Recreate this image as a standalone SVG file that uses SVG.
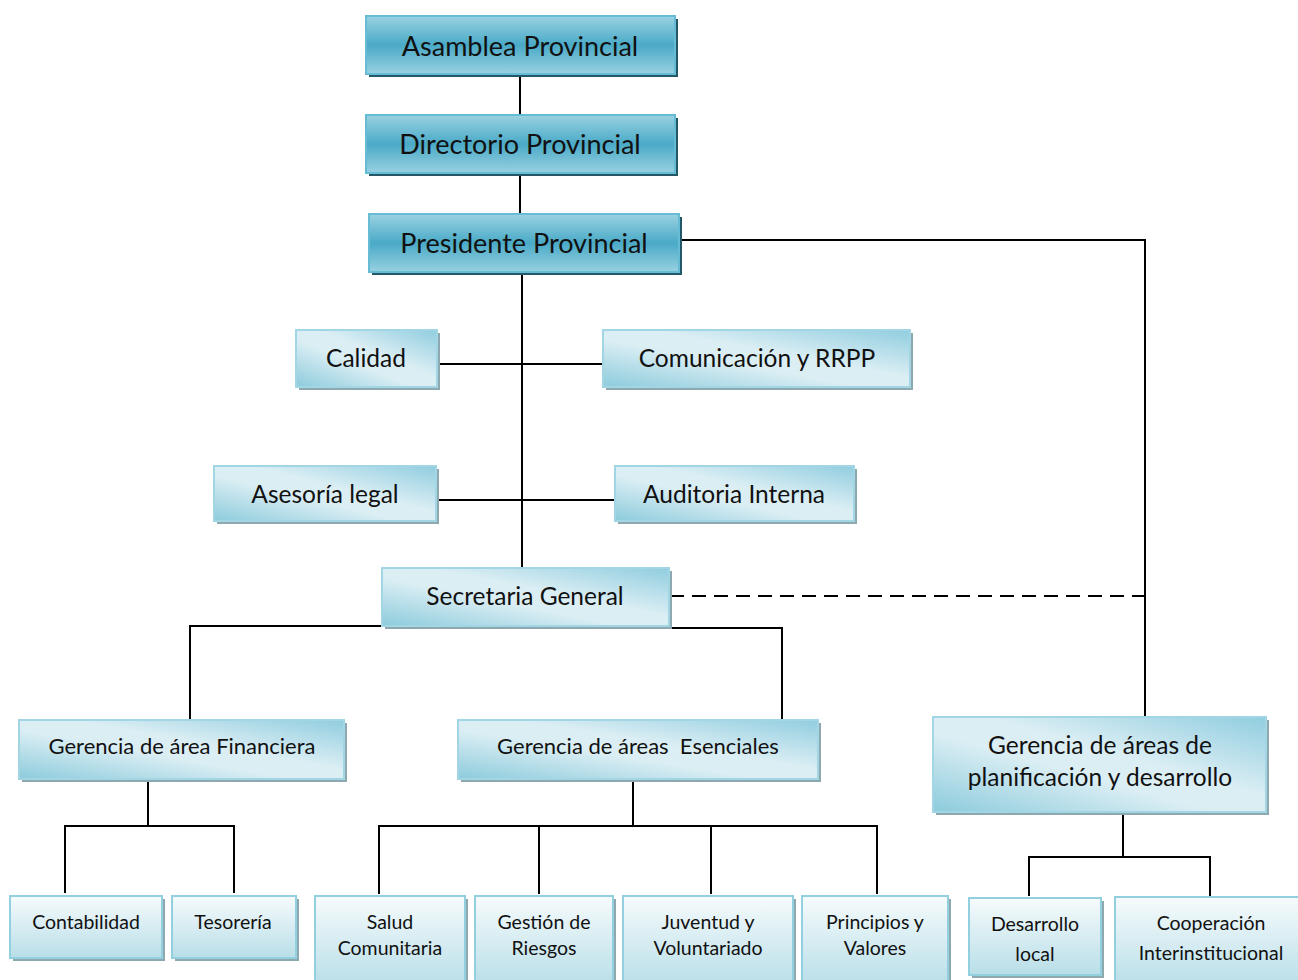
<svg xmlns="http://www.w3.org/2000/svg" width="1298" height="980" viewBox="0 0 1298 980">
<defs>
<linearGradient id="gDark" x1="0" y1="0" x2="0" y2="1">
<stop offset="0" stop-color="#9ad2e2"/>
<stop offset="0.5" stop-color="#4aaac7"/>
<stop offset="1" stop-color="#98d1e1"/>
</linearGradient>
<linearGradient id="gMid" x1="0" y1="1" x2="1" y2="0">
<stop offset="0" stop-color="#8ccbdc"/>
<stop offset="0.42" stop-color="#dbeef4"/>
<stop offset="0.58" stop-color="#dbeef4"/>
<stop offset="1" stop-color="#90cddf"/>
</linearGradient>
<linearGradient id="gLow" x1="0" y1="0" x2="0" y2="1">
<stop offset="0" stop-color="#f6fbfc"/>
<stop offset="1" stop-color="#b8dee8"/>
</linearGradient>
</defs>
<style>
.dsh{fill:#245866}
.lsh{fill:#8ea8b0}
.dk{fill:url(#gDark);stroke:#66bcd4;stroke-width:2}
.md{fill:url(#gMid);stroke:#a3d6e4;stroke-width:2}
.lw{fill:url(#gLow);stroke:#92d0e0;stroke-width:2}
text{font-family:Lato,"Open Sans","Liberation Sans",sans-serif;fill:#111;text-anchor:middle;white-space:pre}
.t1{font-size:27px}
.t2{font-size:24.5px}
.t3{font-size:22px}
.t4{font-size:19.5px}
.c{fill:none;stroke:#000;stroke-width:2}
.dash{fill:none;stroke:#000;stroke-width:2;stroke-dasharray:14 8}
</style>
<g id="connectors">
<line class="c" x1="520" y1="74" x2="520" y2="115"/>
<line class="c" x1="520" y1="173" x2="520" y2="214"/>
<line class="c" x1="522" y1="272" x2="522" y2="568"/>
<polyline class="c" points="679,240 1145,240 1145,717"/>
<line class="c" x1="437" y1="364" x2="603" y2="364"/>
<line class="c" x1="437" y1="500" x2="615" y2="500"/>
<line class="dash" x1="670" y1="596" x2="1145" y2="596"/>
<polyline class="c" points="382,626 190,626 190,720"/>
<polyline class="c" points="669,628 782,628 782,720"/>
<line class="c" x1="148" y1="779" x2="148" y2="826"/>
<polyline class="c" points="65,893 65,826 234,826 234,893"/>
<line class="c" x1="633" y1="779" x2="633" y2="826"/>
<line class="c" x1="378" y1="826" x2="878" y2="826"/>
<line class="c" x1="379" y1="826" x2="379" y2="894"/>
<line class="c" x1="539" y1="826" x2="539" y2="894"/>
<line class="c" x1="711" y1="826" x2="711" y2="894"/>
<line class="c" x1="877" y1="826" x2="877" y2="894"/>
<line class="c" x1="1123" y1="811" x2="1123" y2="857"/>
<polyline class="c" points="1029,896 1029,857 1210,857 1210,896"/>
</g>
<g id="asamblea">
<rect class="dsh" x="369" y="19" width="309" height="58"/>
<rect class="dk" x="366" y="16" width="309" height="58"/>
<text class="t1" x="520" y="56">Asamblea Provincial</text>
</g>
<g id="directorio">
<rect class="dsh" x="369" y="118" width="309" height="58"/>
<rect class="dk" x="366" y="115" width="309" height="58"/>
<text class="t1" x="520" y="154">Directorio Provincial</text>
</g>
<g id="presidente">
<rect class="dsh" x="372" y="217" width="310" height="58"/>
<rect class="dk" x="369" y="214" width="310" height="58"/>
<text class="t1" x="524" y="253">Presidente Provincial</text>
</g>
<g id="calidad">
<rect class="lsh" x="299" y="333" width="141" height="57"/>
<rect class="md" x="296" y="330" width="141" height="57"/>
<text class="t2" x="366" y="367">Calidad</text>
</g>
<g id="comunicacion">
<rect class="lsh" x="606" y="333" width="307" height="57"/>
<rect class="md" x="603" y="330" width="307" height="57"/>
<text class="t2" x="757" y="367">Comunicación y RRPP</text>
</g>
<g id="asesoria">
<rect class="lsh" x="217" y="469" width="222" height="55"/>
<rect class="md" x="214" y="466" width="222" height="55"/>
<text class="t2" x="325" y="503">Asesoría legal</text>
</g>
<g id="auditoria">
<rect class="lsh" x="618" y="469" width="239" height="55"/>
<rect class="md" x="615" y="466" width="239" height="55"/>
<text class="t2" x="734" y="503">Auditoria Interna</text>
</g>
<g id="secretaria">
<rect class="lsh" x="385" y="571" width="287" height="58"/>
<rect class="md" x="382" y="568" width="287" height="58"/>
<text class="t2" x="525" y="605">Secretaria General</text>
</g>
<g id="financiera">
<rect class="lsh" x="22" y="723" width="325" height="59"/>
<rect class="md" x="19" y="720" width="325" height="59"/>
<text class="t3" x="182" y="754">Gerencia de área Financiera</text>
</g>
<g id="esenciales">
<rect class="lsh" x="461" y="723" width="360" height="59"/>
<rect class="md" x="458" y="720" width="360" height="59"/>
<text class="t3" x="638" y="754">Gerencia de áreas  Esenciales</text>
</g>
<g id="planificacion">
<rect class="lsh" x="936" y="720" width="333" height="95"/>
<rect class="md" x="933" y="717" width="333" height="95"/>
<text class="t2" x="1100" y="754">Gerencia de áreas de</text>
<text class="t2" x="1100" y="786">planificación y desarrollo</text>
</g>
<g id="contabilidad">
<rect class="lsh" x="13" y="899" width="152" height="62"/>
<rect class="lw" x="10" y="896" width="152" height="62"/>
<text class="t4" x="86" y="929">Contabilidad</text>
</g>
<g id="tesoreria">
<rect class="lsh" x="175" y="899" width="124" height="62"/>
<rect class="lw" x="172" y="896" width="124" height="62"/>
<text class="t4" x="233" y="929">Tesorería</text>
</g>
<g id="salud">
<rect class="lsh" x="318" y="899" width="150" height="90"/>
<rect class="lw" x="315" y="896" width="150" height="90"/>
<text class="t4" x="390" y="929">Salud</text>
<text class="t4" x="390" y="955">Comunitaria</text>
</g>
<g id="gestion">
<rect class="lsh" x="478" y="899" width="138" height="90"/>
<rect class="lw" x="475" y="896" width="138" height="90"/>
<text class="t4" x="544" y="929">Gestión de</text>
<text class="t4" x="544" y="955">Riesgos</text>
</g>
<g id="juventud">
<rect class="lsh" x="626" y="899" width="170" height="90"/>
<rect class="lw" x="623" y="896" width="170" height="90"/>
<text class="t4" x="708" y="929">Juventud y</text>
<text class="t4" x="708" y="955">Voluntariado</text>
</g>
<g id="principios">
<rect class="lsh" x="805" y="899" width="146" height="90"/>
<rect class="lw" x="802" y="896" width="146" height="90"/>
<text class="t4" x="875" y="929">Principios y</text>
<text class="t4" x="875" y="955">Valores</text>
</g>
<g id="desarrollo">
<rect class="lsh" x="972" y="901" width="132" height="77"/>
<rect class="lw" x="969" y="898" width="132" height="77"/>
<text class="t4" x="1035" y="931">Desarrollo</text>
<text class="t4" x="1035" y="961">local</text>
</g>
<g id="cooperacion">
<rect class="lsh" x="1118" y="900" width="190" height="90"/>
<rect class="lw" x="1115" y="897" width="190" height="90"/>
<text class="t4" x="1211" y="930">Cooperación</text>
<text class="t4" x="1211" y="960">Interinstitucional</text>
</g>
</svg>
